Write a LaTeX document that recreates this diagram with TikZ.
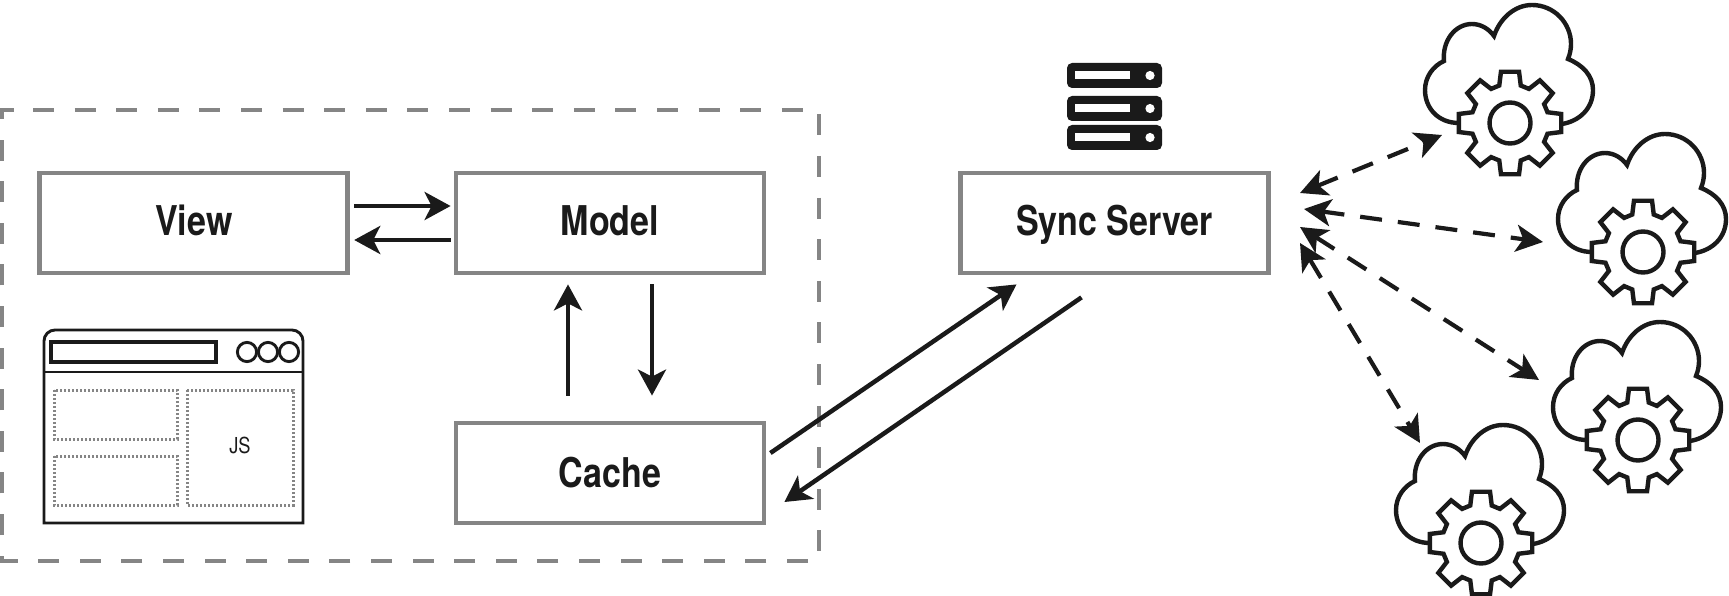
\documentclass[tikz,border=0pt]{standalone}
\usepackage{fontspec}
\setmainfont[FakeStretch=0.83]{TeX Gyre Heros}
\usepackage{xcolor}
\usetikzlibrary{arrows.meta}
\definecolor{boxgray}{HTML}{858585}
\definecolor{inkblack}{HTML}{1A1A1A}
\tikzset{
  box/.style={draw=boxgray,line width=4.8pt,minimum width=308pt,minimum height=100pt,
    inner sep=0pt,text=inkblack,text height=24pt,text depth=0pt,
    font=\fontsize{41}{43}\selectfont\bfseries},
  link/.style={draw=inkblack,line width=4.5pt,-{Stealth[length=26pt,width=28pt,inset=7pt]}},
  synclink/.style={draw=inkblack,line width=4.2pt,dash pattern=on 22pt off 16pt,
    {Stealth[length=27pt,width=27pt,inset=7pt]}-{Stealth[length=27pt,width=27pt,inset=7pt]}},
  slot/.style={draw=boxgray,dash pattern=on 2.2pt off 1.8pt,line width=3pt},
  winline/.style={draw=inkblack,line width=2.9pt},
  cloudgear/.pic={
    \draw[inkblack,line width=4.4pt]
      (-51,0) .. controls (-72,0) and (-85,-15) .. (-85,-33)
      .. controls (-85,-46) and (-77,-57) .. (-66,-62)
      .. controls (-68,-82) and (-55,-99) .. (-38,-99)
      .. controls (-29,-99) and (-21,-94) .. (-16,-87)
      .. controls (-10,-105) and (5,-118) .. (22,-118)
      .. controls (44,-118) and (61,-100) .. (61,-79)
      .. controls (61,-74) and (60,-69) .. (58,-64)
      .. controls (73,-58) and (83,-47) .. (83,-33)
      .. controls (83,-15) and (70,-2) .. (52,1);
    \draw[inkblack,line width=4.4pt,fill=white] (-16:39)
      \foreach \a in {0,45,...,315} {
        -- (\a-16:39) -- (\a-10:52) -- (\a+10:52) -- (\a+16:39)
      } -- cycle;
    \draw[inkblack,line width=4.4pt] (0,0) circle (20.5);
  }
}

\begin{document}
\begin{tikzpicture}[x=1pt,y=-1pt]
  \useasboundingbox (0,0) rectangle (1729,596);
  \draw[boxgray,line width=4.8pt,dash pattern=on 21pt off 20.6pt]
    (33,110) -- (819,110) -- (819,561) -- (2,561) -- (2,110) -- cycle;

  \node[box] (view) at (193.8,223) {View};
  \node[box] (model) at (610,223) {Model};
  \node[box,text height=28pt] (cache) at (610,473) {Cache};
  \node[box] (sync) at (1114.5,223) {Sync Server};

  \draw[link] ([xshift=4pt,yshift=17pt]view.east) -- ([xshift=-3pt,yshift=17pt]model.west);
  \draw[link] ([xshift=-3pt,yshift=-17pt]model.west) -- ([xshift=4pt,yshift=-17pt]view.east);
  \draw[link] ([xshift=-42pt,yshift=25pt]cache.north) -- ([xshift=-42pt,yshift=-9pt]model.south);
  \draw[link] ([xshift=42pt,yshift=-9pt]model.south) -- ([xshift=42pt,yshift=25pt]cache.north);
  \draw[link] ([xshift=4pt,yshift=20pt]cache.east) -- ([xshift=-98pt,yshift=-9pt]sync.south);
  \draw[link] ([xshift=-33pt,yshift=-22pt]sync.south) -- ([xshift=18pt,yshift=-29pt]cache.east);

  % server rack
  \foreach \y/\sl in {63/71,96/104,125/133} {
    \fill[inkblack,rounded corners=5pt] (1067,\y) rectangle (1162,\y+25);
    \fill[white] (1075,\sl) rectangle (1130,\sl+8.5);
    \fill[white] (1150,\y+12.5) circle (4.6);
  }

  % browser window
  \draw[winline] (44,523) [rounded corners=11pt] -- (44,330) -- (303,330) [sharp corners] -- (303,523) -- cycle;
  \draw[winline] (44,372) -- (303,372);
  \draw[winline,line width=3.2pt] (51,342) rectangle (216,362);
  \foreach \cx in {247,268,289} {
    \draw[winline] (\cx,352) circle (9.6);
  }
  \draw[slot] (54,390) rectangle (177,439);
  \draw[slot] (54,456) rectangle (177,505);
  \draw[slot] (187,390) rectangle (293,505);
  \node[inkblack,font=\fontsize{22}{23}\selectfont] (js) at (240,445) {JS};

  % clouds
  \pic at (1510,123) {cloudgear};
  \pic at (1643,252) {cloudgear};
  \pic at (1638,440) {cloudgear};
  \pic at (1481,543) {cloudgear};

  \coordinate (tipa) at (1300,193);
  \coordinate (tipb) at (1304,209);
  \coordinate (tipc) at (1300,227);
  \coordinate (tipd) at (1300,243);
  \coordinate (clda) at (1442,135);
  \coordinate (cldb) at (1543,242);
  \coordinate (cldc) at (1539,380);
  \coordinate (cldd) at (1420,443);
  \draw[synclink] (tipa) -- (clda);
  \draw[synclink] (tipb) -- (cldb);
  \draw[synclink] (tipc) -- (cldc);
  \draw[synclink] (tipd) -- (cldd);
\end{tikzpicture}
\end{document}
